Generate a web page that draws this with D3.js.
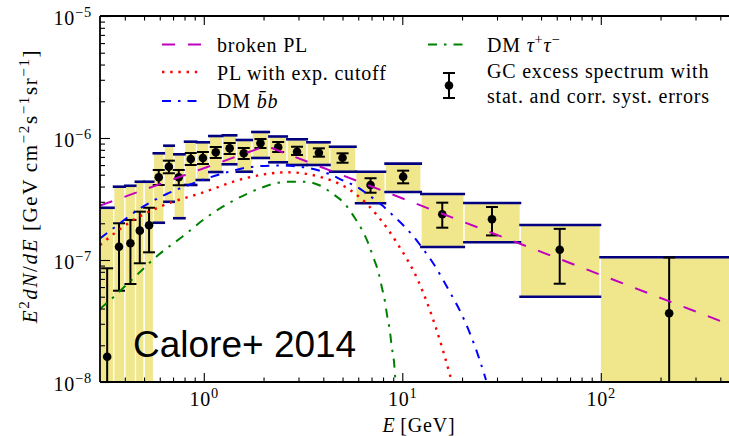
<!DOCTYPE html>
<html>
<head>
<meta charset="utf-8">
<script src="https://cdn.jsdelivr.net/npm/d3@7"></script>
<style>
  body { margin: 0; background: #fff; }
  svg text { font-family: "Liberation Serif", serif; fill: #000; }
</style>
</head>
<body>
<svg id="chart" width="729" height="436"></svg>
<script>
//------------------------------------------------------------------------
// GC excess spectrum (Calore+ 2014) with model curves
//

// Energy bins [GeV] and GC excess flux E^2 dN/dE [GeV cm^-2 s^-1 sr^-1]
const binEdges   = [0.3, 0.352, 0.401, 0.453, 0.501, 0.558, 0.631, 0.708, 0.802, 0.919,
                    1.063, 1.242, 1.461, 1.751, 2.133, 2.628, 3.314, 4.313, 5.83, 8.21,
                    12.43, 20.48, 39.3, 99.4, 500];
const binCenters = [0.326, 0.374, 0.427, 0.476, 0.530, 0.593, 0.667, 0.748, 0.860, 0.99,
                    1.149, 1.35, 1.59, 1.93, 2.37, 2.95, 3.80, 5.0, 6.92, 10.1,
                    15.9, 28.3, 62.1, 221];
const fluxVal = [1.61e-8, 1.285e-7, 1.37e-7, 1.74e-7, 1.925e-7, 4.76e-7, 5.82e-7, 4.76e-7, 6.73e-7, 6.86e-7,
                 7.63e-7, 8.23e-7, 7.49e-7, 9.05e-7, 8.39e-7, 7.72e-7, 7.58e-7, 6.89e-7, 4.12e-7, 4.82e-7,
                 2.37e-7, 2.16e-7, 1.215e-7, 3.66e-8];
// statistical error bar ends
const statHi = [8.55e-8, 2.0e-7, 2.13e-7, 2.49e-7, 2.68e-7, 5.47e-7, 6.52e-7, 5.47e-7, 7.53e-7, 7.68e-7,
                8.44e-7, 9.10e-7, 8.28e-7, 9.81e-7, 9.27e-7, 8.48e-7, 8.23e-7, 7.49e-7, 4.68e-7, 5.40e-7,
                2.95e-7, 2.72e-7, 1.80e-7, 1.05e-7];
const statLo = [1e-9, 5.6e-8, 6.36e-8, 9.4e-8, 1.156e-7, 4.12e-7, 5.14e-7, 4.10e-7, 6.01e-7, 6.12e-7,
                6.86e-7, 7.39e-7, 6.73e-7, 8.28e-7, 7.68e-7, 7.26e-7, 7.03e-7, 6.27e-7, 3.56e-7, 4.25e-7,
                1.84e-7, 1.59e-7, 6.39e-8, 1e-9];
// correlated systematic band (yellow boxes)
const sysHi = [2.68e-7, 3.99e-7, 4.06e-7, 4.38e-7, 4.38e-7, 7.49e-7, 8.65e-7, 7.35e-7, 9.33e-7, 9.22e-7,
               1.038e-6, 1.052e-6, 9.63e-7, 1.12e-6, 1.029e-6, 9.76e-7, 9.22e-7, 8.48e-7, 5.29e-7, 6.16e-7,
               3.475e-7, 2.93e-7, 1.936e-7, 1.052e-7];
const sysLo = [1e-9, 1e-9, 1e-9, 1e-9, 1e-9, 2.02e-7, 3.0e-7, 2.2e-7, 4.12e-7, 4.525e-7,
               5.26e-7, 6.09e-7, 5.29e-7, 6.86e-7, 6.32e-7, 6.01e-7, 6.01e-7, 5.29e-7, 2.915e-7, 3.61e-7,
               1.278e-7, 1.397e-7, 5.0e-8, 1e-9];

// Model curves: energy [GeV] and E^2 dN/dE
const bplE = [0.3, 2.06, 500];
const bplF = [2.79e-7, 8.63e-7, 2.75e-8];

const pecE = [0.3, 0.4413, 0.6017, 0.994, 1.613, 2.634, 3.926, 5.777, 7.57, 9.546, 12.04, 14.61, 17.39, 18.0];
const pecF = [1.327e-7, 2.127e-7, 2.735e-7, 3.588e-7, 4.674e-7, 5.235e-7, 4.763e-7, 3.508e-7, 2.264e-7,
              1.327e-7, 6.727e-8, 2.932e-8, 1.141e-8, 9.27e-9];

const bbE = [0.3, 0.3569, 0.4772, 0.6503, 0.852, 1.254, 1.811, 2.421, 3.053, 4.319, 5.043, 5.892, 6.875,
             7.876, 9.01, 10.2, 11.46, 12.72, 14.28, 15.85, 17.59, 19.76, 22.19, 24.35, 26.41];
const bbF = [1.5e-7, 1.864e-7, 2.643e-7, 3.475e-7, 4.158e-7, 5.136e-7, 5.84e-7, 5.95e-7, 5.818e-7, 5.04e-7,
             4.467e-7, 3.99e-7, 3.346e-7, 2.823e-7, 2.307e-7, 1.9e-7, 1.543e-7, 1.231e-7, 9.45e-8, 7.12e-8,
             5.26e-8, 3.678e-8, 2.382e-8, 1.573e-8, 1.038e-8];

const tauE = [0.3, 0.3528, 0.4592, 0.5897, 0.788, 1.034, 1.408, 1.919, 2.284, 2.719, 3.235, 3.849, 4.476,
              5.145, 5.711, 6.246, 6.743, 7.143, 7.57, 7.876, 8.18, 8.404, 8.67, 8.843, 9.082, 9.242];
const tauF = [3.967e-8, 5.003e-8, 7.53e-8, 1.099e-7, 1.573e-7, 2.239e-7, 3.062e-7, 3.87e-7, 4.253e-7,
              4.383e-7, 4.383e-7, 4.08e-7, 3.475e-7, 2.877e-7, 2.264e-7, 1.785e-7, 1.37e-7, 1.052e-7,
              8.02e-8, 6.04e-8, 4.55e-8, 3.43e-8, 2.584e-8, 1.947e-8, 1.467e-8, 1.0e-8];

// Axis ticks and labels
const xTickVals = [1, 10, 100];
const xTickExp  = ['0', '1', '2'];
const yTickVals = [1e-8, 1e-7, 1e-6, 1e-5];
const yTickExp  = ['\u22128', '\u22127', '\u22126', '\u22125'];

// Legend entries
const legendLabels = ['broken PL', 'PL with exp. cutoff', 'DM', 'DM', 'GC excess spectrum with', 'stat. and corr. syst. errors'];

//------------------------------------------------------------------------
// Layout
const W = 729, H = 436;
const plotL = 100, plotT = 16, plotB = 382;
const decadePx = 198.5;
const fs = 20;
const ls = '0.8px';   // widen Times a little towards Computer Modern

const colors = {bpl: '#BF00BF', pec: '#FF0000', bb: '#0000FF', tau: '#008000',
                box: '#F0E68C', boxLine: '#000080'};
const dashes = {bpl: '13,13', pec: '2.4,5.8', bb: '9,7,2.5,7', tau: '9,7,2.5,7'};

const x = d3.scaleLog().domain([0.3, 500])
            .range([plotL, plotL + decadePx * Math.log10(500 / 0.3)]);
const y = d3.scaleLog().domain([1e-8, 1e-5]).range([plotB, plotT]);

const svg = d3.select('#chart');

svg.append('defs').append('clipPath').attr('id', 'clip')
   .append('rect').attr('x', plotL).attr('y', plotT)
   .attr('width', W - plotL + 20).attr('height', plotB - plotT);

const plot = svg.append('g').attr('clip-path', 'url(#clip)');

// Helper : TeX-like text made of roman / italic / superscript pieces
function tex(sel, parts, size) {
    let up = false;
    parts.forEach(([s, k]) => {
        const sup = k.startsWith('s');
        const t = sel.append('tspan').text(s);
        if (sup && !up)      { t.attr('dy', -0.38 * size); up = true; }
        else if (!sup && up) { t.attr('dy',  0.38 * size); up = false; }
        if (sup) t.attr('font-size', size * 0.72);
        if (k.includes('i')) t.attr('font-style', 'italic');
    });
}

//------------------------------------------------------------------------
// Systematic boxes
const idx = d3.range(binCenters.length);

plot.selectAll('rect.sys').data(idx).join('rect')
    .attr('class', 'sys')
    .attr('x', i => x(binEdges[i]))
    .attr('width', i => x(binEdges[i + 1]) - x(binEdges[i]))
    .attr('y', i => y(sysHi[i]))
    .attr('height', i => y(sysLo[i]) - y(sysHi[i]))
    .attr('fill', colors.box)
    .attr('stroke', '#fff').attr('stroke-width', 1.2);

['hi', 'lo'].forEach(side => {
    const arr = side === 'hi' ? sysHi : sysLo;
    plot.selectAll(`line.sys-${side}`).data(idx).join('line')
        .attr('class', `sys-${side}`)
        .attr('x1', i => x(binEdges[i]) - 1)
        .attr('x2', i => x(binEdges[i + 1]) + 1)
        .attr('y1', i => y(arr[i])).attr('y2', i => y(arr[i]))
        .attr('stroke', colors.boxLine).attr('stroke-width', 2.6);
});

//------------------------------------------------------------------------
// Statistical error bars and data points
const capW = 6;
const eb = plot.selectAll('g.eb').data(idx).join('g').attr('class', 'eb');
eb.append('line')
  .attr('x1', i => x(binCenters[i])).attr('x2', i => x(binCenters[i]))
  .attr('y1', i => y(statLo[i])).attr('y2', i => y(statHi[i]))
  .attr('stroke', '#000').attr('stroke-width', 2);
[statLo, statHi].forEach(arr => {
    eb.append('line')
      .attr('x1', i => x(binCenters[i]) - capW).attr('x2', i => x(binCenters[i]) + capW)
      .attr('y1', i => y(arr[i])).attr('y2', i => y(arr[i]))
      .attr('stroke', '#000').attr('stroke-width', 2);
});
eb.append('circle')
  .attr('cx', i => x(binCenters[i])).attr('cy', i => y(fluxVal[i]))
  .attr('r', 4.3).attr('fill', '#000');

//------------------------------------------------------------------------
// Model curves
const curves = [
    {key: 'bpl', E: bplE, F: bplF, curve: d3.curveLinear},
    {key: 'pec', E: pecE, F: pecF, curve: d3.curveMonotoneX},
    {key: 'bb',  E: bbE,  F: bbF,  curve: d3.curveMonotoneX},
    {key: 'tau', E: tauE, F: tauF, curve: d3.curveMonotoneX}
];
curves.forEach(c => {
    const pts = c.E.map((e, i) => [e, c.F[i]]);
    plot.append('path')
        .attr('d', d3.line().x(d => x(d[0])).y(d => y(d[1])).curve(c.curve)(pts))
        .attr('fill', 'none')
        .attr('stroke', colors[c.key])
        .attr('stroke-width', c.key === 'pec' ? 2.4 : 2)
        .attr('stroke-dasharray', dashes[c.key]);
});

//------------------------------------------------------------------------
// Axes (ticks inward, on all visible sides)
const xMinor = x.ticks().filter(v => !xTickVals.includes(v) && v > 0.3);
const yMinor = y.ticks().filter(v => !yTickVals.some(t => Math.abs(t - v) / v < 1e-6));

function axisGroup(axis, tr) {
    return svg.append('g').attr('transform', tr).call(axis);
}

const gxB = axisGroup(d3.axisBottom(x).tickValues(xTickVals).tickSize(-9).tickPadding(9.5), `translate(0,${plotB})`);
axisGroup(d3.axisBottom(x).tickValues(xMinor).tickSize(-4.5).tickFormat(''), `translate(0,${plotB})`);
axisGroup(d3.axisTop(x).tickValues(xTickVals).tickSize(-9).tickFormat(''), `translate(0,${plotT})`);
axisGroup(d3.axisTop(x).tickValues(xMinor).tickSize(-4.5).tickFormat(''), `translate(0,${plotT})`);
const gyL = axisGroup(d3.axisLeft(y).tickValues(yTickVals).tickSize(-10).tickPadding(8), `translate(${plotL},0)`);
axisGroup(d3.axisLeft(y).tickValues(yMinor).tickSize(-5).tickFormat(''), `translate(${plotL},0)`);

svg.selectAll('.domain').remove();
svg.selectAll('.tick line').attr('stroke', '#000').attr('stroke-width', 1.1);

gxB.selectAll('.tick text').each(function(d, i) {
    const t = d3.select(this).text(null).attr('font-size', fs).attr('font-family', '"Liberation Serif", serif')
                .style('letter-spacing', ls);
    tex(t, [['10', ''], [xTickExp[i], 's']], fs);
});
gyL.selectAll('.tick text').each(function(d, i) {
    const t = d3.select(this).text(null).attr('font-size', fs).attr('dy', '0.42em')
                .attr('font-family', '"Liberation Serif", serif').style('letter-spacing', ls);
    tex(t, [['10', ''], [yTickExp[i], 's']], fs);
});

// Frame spines
const frame = svg.append('g').attr('stroke', '#000').attr('stroke-width', 1.8);
frame.append('line').attr('x1', plotL).attr('x2', W).attr('y1', plotT).attr('y2', plotT);
frame.append('line').attr('x1', plotL).attr('x2', W).attr('y1', plotB).attr('y2', plotB);
frame.append('line').attr('x1', plotL).attr('x2', plotL).attr('y1', plotT).attr('y2', plotB);

// Axis labels
const xl = svg.append('text').attr('x', 419).attr('y', 432)
              .attr('text-anchor', 'middle').attr('font-size', fs).style('letter-spacing', ls);
tex(xl, [['E', 'i'], ['\u2009[GeV]', '']], fs);

const yl = svg.append('text').attr('transform', 'translate(37,186) rotate(-90)')
              .attr('text-anchor', 'middle').attr('font-size', 21).style('letter-spacing', '1.6px');
tex(yl, [['E', 'i'], ['2', 's'], ['dN', 'i'], ['/', ''], ['dE', 'i'],
         [' [GeV\u2009cm', ''], ['\u22122', 's'], ['s', ''], ['\u22121', 's'],
         ['sr', ''], ['\u22121', 's'], [']', '']], 21);

//------------------------------------------------------------------------
// Legend
const leg = svg.append('g');
function legLine(key, x0, x1, yy) {
    leg.append('line').attr('x1', x0).attr('x2', x1).attr('y1', yy).attr('y2', yy)
       .attr('stroke', colors[key]).attr('stroke-width', key === 'pec' ? 2.4 : 2)
       .attr('stroke-dasharray', dashes[key]);
}
legLine('bpl', 162, 202, 44.5);
legLine('pec', 162, 202, 72);
legLine('bb',  162, 202, 101);
legLine('tau', 428, 468, 44.5);

const legText = (xx, yy) => leg.append('text').attr('x', xx).attr('y', yy)
                               .attr('font-size', fs).style('letter-spacing', ls);
legText(217, 51.5).text(legendLabels[0]);
legText(217, 79.5).text(legendLabels[1]);
tex(legText(217, 108), [[legendLabels[2] + ' ', ''], ['b\u0304b', 'i']], fs);
tex(legText(487, 51.5), [[legendLabels[3] + ' ', ''], ['\u03C4', 'i'], ['+', 's'], ['\u03C4', 'i'], ['\u2212', 's']], fs);
legText(487, 78).text(legendLabels[4]);
legText(487, 103).text(legendLabels[5]);

// errorbar handle
leg.append('line').attr('x1', 449).attr('x2', 449).attr('y1', 73).attr('y2', 98)
   .attr('stroke', '#000').attr('stroke-width', 2);
[73, 98].forEach(yy => leg.append('line').attr('x1', 449 - capW).attr('x2', 449 + capW)
   .attr('y1', yy).attr('y2', yy).attr('stroke', '#000').attr('stroke-width', 2));
leg.append('circle').attr('cx', 449).attr('cy', 85.5).attr('r', 4.3).attr('fill', '#000');

// Annotation
svg.append('text').attr('x', 133).attr('y', 357)
   .style('font-family', '"Liberation Sans", Arial, sans-serif')
   .attr('font-size', 37).text('Calore+ 2014');
</script>
</body>
</html>
